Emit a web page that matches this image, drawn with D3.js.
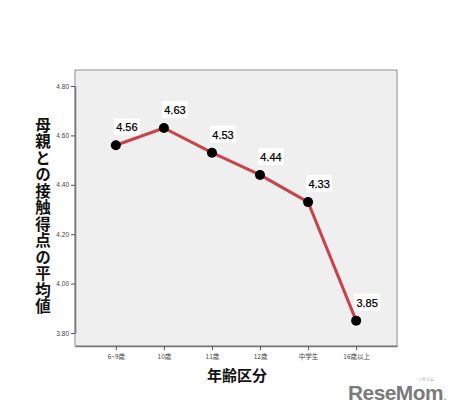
<!DOCTYPE html>
<html><head><meta charset="utf-8">
<script src="https://cdn.jsdelivr.net/npm/d3@7"></script>
<style>
html,body{margin:0;padding:0;background:#fff;}
svg{display:block;}
</style></head>
<body>
<script>
const categories = ["6~9歳", "10歳", "11歳", "12歳", "中学生", "16歳以上"];
const values = [4.56, 4.63, 4.53, 4.44, 4.33, 3.85];
const yTicks = [3.80, 4.00, 4.20, 4.40, 4.60, 4.80];
const yTitle = "母親との接触得点の平均値";
const xTitle = "年齢区分";

const W = 458, H = 415;
const box = {l: 75, r: 397, t: 70, b: 346};
const svg = d3.select("body").append("svg").attr("width", W).attr("height", H);

const x = d3.scalePoint().domain(categories).range([box.l, box.r]).padding(0.85);
const y = d3.scaleLinear().domain([3.80, 4.80]).range([333, 86]);

svg.append("rect").attr("x", box.l).attr("y", box.t)
  .attr("width", box.r - box.l).attr("height", box.b - box.t)
  .attr("fill", "#efefef").attr("stroke", "#8f8f8f").attr("stroke-width", 1);

const ya = svg.append("g").attr("transform", `translate(${box.l},0)`)
  .call(d3.axisLeft(y).tickValues(yTicks).tickFormat(d3.format(".2f")).tickSize(4).tickSizeOuter(0));
ya.select(".domain").attr("stroke", "#777").attr("stroke-width", 1.6);
ya.selectAll(".tick line").attr("stroke", "#555");
ya.selectAll(".tick text").attr("font-family", "Liberation Sans, Arial, sans-serif")
  .attr("font-size", 6.5).attr("fill", "#444").attr("dx", 1);

const xa = svg.append("g").attr("transform", `translate(0,${box.b})`)
  .call(d3.axisBottom(x).tickSize(4).tickSizeOuter(0));
xa.select(".domain").attr("stroke", "#777").attr("stroke-width", 1.6);
xa.selectAll(".tick line").attr("stroke", "#555");
xa.selectAll(".tick text").attr("font-family", "Noto Sans CJK JP, sans-serif")
  .attr("font-size", 6.5).attr("fill", "#444").attr("dy", "0.9em");

const line = d3.line().x((d, i) => x(categories[i])).y(d => y(d));
svg.append("path").datum(values).attr("d", line)
  .attr("fill", "none").attr("stroke", "#c9434a").attr("stroke-width", 3)
  .attr("stroke-linejoin", "round");

svg.selectAll("circle.pt").data(values).enter().append("circle")
  .attr("class", "pt")
  .attr("cx", (d, i) => x(categories[i])).attr("cy", d => y(d))
  .attr("r", 5).attr("fill", "#000");

const lbl = svg.selectAll("g.lbl").data(values).enter().append("g")
  .attr("class", "lbl")
  .attr("transform", (d, i) => `translate(${x(categories[i]) + 11},${y(d) - 18})`);
lbl.append("rect").attr("x", -13).attr("y", -9).attr("width", 26).attr("height", 17).attr("fill", "#fff");
lbl.append("text").attr("text-anchor", "middle").attr("dy", "0.35em")
  .attr("font-family", "Liberation Sans, Arial, sans-serif").attr("font-weight", "normal")
  .attr("font-size", 11).attr("fill", "#000").attr("stroke", "#000").attr("stroke-width", 0.25)
  .text(d => d.toFixed(2));

svg.append("text").attr("x", 43).attr("y", 117)
  .attr("font-family", "Noto Sans CJK JP, sans-serif").attr("font-weight", "bold")
  .attr("font-size", 15.5).attr("fill", "#111")
  .style("writing-mode", "vertical-rl").attr("letter-spacing", 1)
  .text(yTitle);

svg.append("text").attr("x", 237).attr("y", 381).attr("text-anchor", "middle")
  .attr("font-family", "Noto Sans CJK JP, sans-serif").attr("font-weight", "bold")
  .attr("font-size", 15).attr("fill", "#111").text(xTitle);

svg.append("text").attr("x", 348).attr("y", 400)
  .attr("font-family", "Liberation Sans, Arial, sans-serif").attr("font-weight", "bold")
  .attr("font-size", 21).attr("fill", "#7a7a7a").attr("letter-spacing", -0.5)
  .attr("textLength", 95).attr("lengthAdjust", "spacingAndGlyphs").text("ReseMom");
svg.append("text").attr("x", 426).attr("y", 381).attr("text-anchor", "middle")
  .attr("font-family", "Noto Sans CJK JP, sans-serif")
  .attr("font-size", 4).attr("fill", "#999").text("リセマム");
svg.append("text").attr("x", 444).attr("y", 400)
  .attr("font-family", "Liberation Sans, Arial, sans-serif").attr("font-weight", "bold")
  .attr("font-size", 8).attr("fill", "#7a7a7a").text(".");
</script>
</body></html>
